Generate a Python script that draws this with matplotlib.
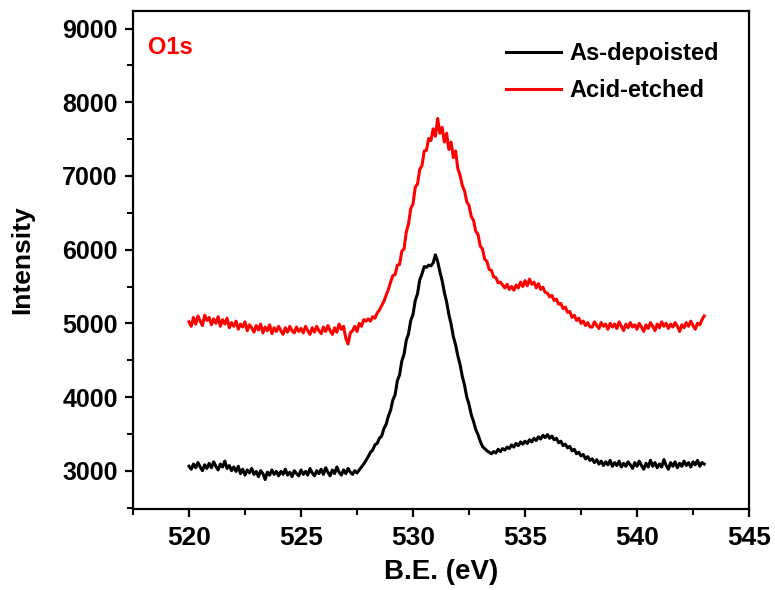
import numpy as np
import matplotlib.pyplot as plt
from matplotlib.ticker import MultipleLocator

plt.rcParams['font.family'] = ['Liberation Sans', 'DejaVu Sans']
plt.rcParams['font.weight'] = 'bold'

# binding energy grid, 0.1 eV steps
be = np.round(np.arange(520.0, 543.05, 0.1), 1)

as_deposited = [
    3060, 3020, 3090, 3040, 3110, 3050, 3000, 3080, 3030, 3100,
    3040, 3120, 3060, 3010, 3090, 3050, 3130, 3030, 3070, 3000,
    3050, 2990, 3060, 2960, 3020, 2940, 3010, 2970, 3030, 2950,
    2990, 2920, 3000, 2960, 2880, 2980, 2940, 3010, 2950, 2990,
    2930, 2990, 2950, 3020, 2940, 2980, 2920, 3000, 2960, 2930,
    3010, 2950, 2990, 2940, 3030, 2970, 2930, 3000, 2960, 3020,
    2950, 3040, 2980, 2930, 3010, 2960, 3050, 2980, 2940, 3010,
    2960, 3030, 2980, 2950, 3000, 2970, 3010, 3050, 3090, 3140,
    3190, 3250, 3280, 3350, 3370, 3440, 3470, 3570, 3630, 3740,
    3820, 3960, 4030, 4220, 4300, 4490, 4580, 4770, 4860, 5040,
    5120, 5310, 5400, 5590, 5670, 5770, 5760, 5790, 5780, 5820,
    5930, 5840, 5700, 5580, 5420, 5290, 5120, 4990, 4820, 4710,
    4560, 4440, 4280, 4160, 4000, 3900, 3760, 3670, 3560, 3490,
    3400, 3330, 3300, 3270, 3250, 3230, 3260, 3240, 3290, 3260,
    3300, 3280, 3320, 3300, 3350, 3320, 3370, 3340, 3390, 3360,
    3400, 3370, 3420, 3390, 3440, 3410, 3460, 3430, 3480, 3450,
    3490, 3440, 3470, 3420, 3440, 3380, 3400, 3340, 3360, 3310,
    3330, 3270, 3290, 3230, 3250, 3200, 3220, 3160, 3190, 3140,
    3160, 3110, 3150, 3090, 3130, 3070, 3120, 3080, 3140, 3060,
    3110, 3070, 3130, 3050, 3100, 3060, 3120, 3080, 3030, 3110,
    3060, 3130, 3070, 3020, 3100, 3050, 3140, 3060, 3110, 3040,
    3090, 3050, 3150, 3070, 3020, 3110, 3060, 3120, 3040, 3100,
    3060, 3130, 3070, 3110, 3050, 3120, 3080, 3140, 3060, 3110,
    3090,
]

acid_etched = [
    5020, 4960, 5080, 4990, 5100, 5030, 4970, 5110, 5040, 5080,
    4980, 5060, 5000, 5090, 4960, 5050, 4990, 5070, 4940, 5010,
    4960, 5030, 4920, 4990, 4950, 5020, 4900, 4980, 4940, 4880,
    4970, 4910, 4990, 4870, 4950, 4900, 4980, 4860, 4940, 4890,
    4960, 4900, 4850, 4940, 4880, 4960, 4900, 4870, 4950, 4890,
    4930, 4870, 4960, 4900, 4850, 4940, 4880, 4960, 4900, 4860,
    4950, 4890, 4970, 4900, 4850, 4940, 4880, 4990, 4920, 4960,
    4800, 4720, 4870, 4900, 4960, 4890, 5000, 4960, 5050, 5030,
    5060, 5030, 5090, 5070, 5140, 5180, 5240, 5300, 5380, 5460,
    5560, 5650, 5660, 5790, 5800, 5980, 6010, 6240, 6350, 6560,
    6620, 6850, 6890, 7090, 7140, 7340, 7350, 7510, 7480, 7640,
    7540, 7780, 7580, 7660, 7460, 7580, 7360, 7460, 7250, 7340,
    7100, 7010, 6870, 6800, 6650, 6600, 6450, 6400, 6250, 6210,
    6050, 6010, 5870, 5840, 5730, 5720, 5630, 5620, 5550, 5560,
    5520, 5480, 5530, 5460, 5500, 5450, 5520, 5480, 5560, 5500,
    5580, 5510, 5600, 5530, 5560, 5480, 5540, 5460, 5490, 5420,
    5410, 5360, 5380, 5310, 5330, 5260, 5270, 5200, 5220, 5150,
    5160, 5080, 5110, 5040, 5070, 5000, 5030, 4970, 5010, 4950,
    4950, 5020, 4970, 4930, 5010, 4960, 4990, 4920, 5000, 4950,
    4990, 4930, 5020, 4960, 4900, 4990, 4940, 5010, 4950, 4980,
    4920, 5000, 4950, 4890, 4980, 4930, 5010, 4960, 4900, 4990,
    4940, 5020, 4960, 5000, 4930, 4990, 4950, 5010, 4960, 4890,
    4980, 4940, 5010, 4960, 5030, 4970, 4920, 5000, 4980, 5050,
    5100,
]

fig = plt.figure(figsize=(7.75, 5.9), dpi=100)
ax = fig.add_axes([0.1716, 0.1373, 0.7949, 0.8441])

ax.plot(be, as_deposited, color='black', lw=2.2, label='As-depoisted')
ax.plot(be, acid_etched, color='red', lw=2.2, label='Acid-etched')

ax.set_xlim(517.5, 545)
ax.set_ylim(2480, 9240)
ax.xaxis.set_major_locator(MultipleLocator(5))
ax.xaxis.set_minor_locator(MultipleLocator(2.5))
ax.yaxis.set_major_locator(MultipleLocator(1000))
ax.yaxis.set_minor_locator(MultipleLocator(500))

for s in ax.spines.values():
    s.set_linewidth(1.6)
ax.tick_params(which='major', direction='out', length=6, width=1.6)
ax.tick_params(which='minor', direction='out', length=4, width=1.4)
ax.tick_params(axis='y', labelsize=18, pad=5)
ax.tick_params(axis='x', labelsize=19, pad=6)
for lab in ax.get_xticklabels() + ax.get_yticklabels():
    lab.set_fontweight('bold')

ax.set_xlabel('B.E. (eV)', fontsize=20, fontweight='bold', labelpad=7)
ax.set_ylabel('Intensity', fontsize=19, fontweight='bold', labelpad=20)

ax.text(0.025, 0.95, 'O1s', transform=ax.transAxes, color='red',
        fontsize=17, fontweight='bold', va='top', ha='left')

ax.legend(loc='upper right', bbox_to_anchor=(0.985, 0.98), frameon=False,
          prop={'size': 17, 'weight': 'bold'}, handlelength=2.3,
          handletextpad=0.35, labelspacing=0.6)

fig.savefig('out.png', dpi=100)
